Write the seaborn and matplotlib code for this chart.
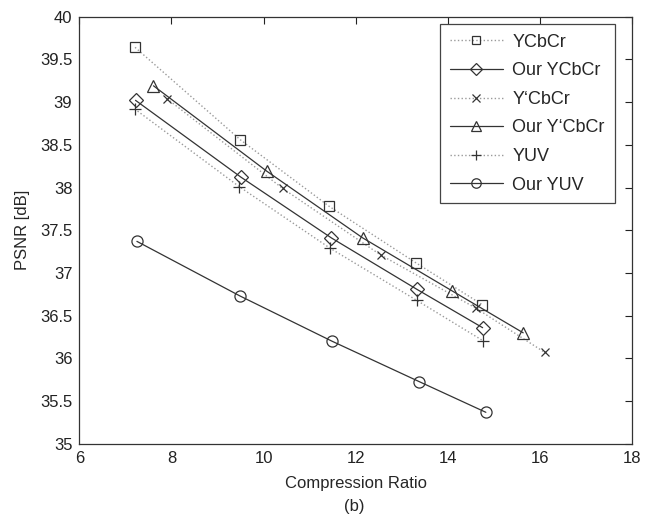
import numpy as np
import matplotlib
matplotlib.use("Agg")
import matplotlib.pyplot as plt
import matplotlib.ticker as mticker
import seaborn as sns

# data (compression ratio vs PSNR)
ycbcr_x = [7.21, 9.49, 11.42, 13.30, 14.74]
ycbcr_y = [39.64, 38.56, 37.78, 37.12, 36.63]

our_ycbcr_x = [7.22, 9.51, 11.47, 13.32, 14.75]
our_ycbcr_y = [39.02, 38.12, 37.41, 36.81, 36.36]

yp_cbcr_x = [7.90, 10.41, 12.54, 14.60, 16.10]
yp_cbcr_y = [39.04, 37.99, 37.21, 36.59, 36.07]

our_yp_cbcr_x = [7.61, 10.07, 12.15, 14.09, 15.63]
our_yp_cbcr_y = [39.19, 38.19, 37.41, 36.79, 36.30]

yuv_x = [7.20, 9.47, 11.44, 13.32, 14.75]
yuv_y = [38.92, 38.01, 37.29, 36.68, 36.21]

our_yuv_x = [7.25, 9.49, 11.49, 13.37, 14.82]
our_yuv_y = [37.37, 36.73, 36.20, 35.73, 35.37]

labels = ["YCbCr", "Our YCbCr", "Y\u2018CbCr", "Our Y\u2018CbCr", "YUV", "Our YUV"]
xs = [ycbcr_x, our_ycbcr_x, yp_cbcr_x, our_yp_cbcr_x, yuv_x, our_yuv_x]
ys = [ycbcr_y, our_ycbcr_y, yp_cbcr_y, our_yp_cbcr_y, yuv_y, our_yuv_y]
markers = ["s", "D", "x", "^", "+", "o"]
msizes = [7, 7, 6, 8, 8, 8]
styles = [":", "-", ":", "-", ":", "-"]

sns.set_style("white")
plt.rcParams["font.family"] = ["Liberation Sans", "DejaVu Sans"]
plt.rcParams["font.size"] = 12

fig = plt.figure(figsize=(6.52, 5.18), dpi=100)
ax = fig.add_axes([0.1216, 0.143, 0.8484, 0.825])

for x, y, lab, m, ms, ls in zip(xs, ys, labels, markers, msizes, styles):
    dotted = ls == ":"
    sns.lineplot(x=x, y=y, ax=ax, label=lab, marker=m, markersize=ms,
                 linestyle=ls, color="#9a9a9a" if dotted else "#333333",
                 linewidth=1.0 if dotted else 0.9,
                 markerfacecolor="none", markeredgecolor="#333333",
                 markeredgewidth=0.9)

ax.set_xlim(6, 18)
ax.set_ylim(35, 40)
ax.set_xticks(np.arange(6, 19, 2))
ax.set_yticks(np.arange(35, 40.01, 0.5))
ax.yaxis.set_major_formatter(mticker.FormatStrFormatter("%g"))
ax.tick_params(direction="in", length=5, width=0.8, top=True, right=True,
               labelsize=12, colors="#222222", pad=5)
for sp in ax.spines.values():
    sp.set_visible(True)
    sp.set_color("#333333")
    sp.set_linewidth(0.9)

ax.set_xlabel("Compression Ratio", fontsize=12, labelpad=7)
ax.set_ylabel("PSNR [dB]", fontsize=12, labelpad=7)
fig.text(0.543, 0.022, "(b)", ha="center", va="center", fontsize=12)

leg = ax.legend(loc="upper right", bbox_to_anchor=(0.968, 0.983), borderaxespad=0,
                fontsize=13, handlelength=2.9, labelspacing=0.64, borderpad=0.55,
                handletextpad=0.55, markerscale=0.85, fancybox=False, framealpha=1,
                edgecolor="#444444")
leg.get_frame().set_linewidth(0.9)

fig.savefig("out.png", dpi=100)
